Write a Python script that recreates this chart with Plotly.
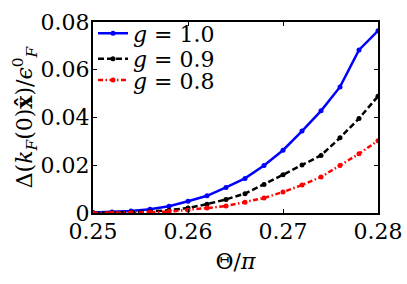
import plotly.graph_objects as go

theta = [0.250, 0.252, 0.254, 0.256, 0.258, 0.260, 0.262, 0.264, 0.266, 0.268,
         0.270, 0.272, 0.274, 0.276, 0.278, 0.280]
g10 = [0.0002, 0.0004, 0.0008, 0.0016, 0.0028, 0.0049, 0.0072, 0.0107, 0.0145, 0.0199,
       0.0263, 0.0343, 0.0428, 0.0528, 0.0683, 0.0763]
g09 = [0.0, 0.0001, 0.0003, 0.0006, 0.0012, 0.0021, 0.0037, 0.0057, 0.0081, 0.0119,
       0.0160, 0.0201, 0.0241, 0.0315, 0.0396, 0.0489]
g08 = [0.0, 0.0, 0.0001, 0.0003, 0.0006, 0.0012, 0.0021, 0.0029, 0.0045, 0.0063,
       0.0088, 0.0117, 0.0151, 0.0199, 0.0248, 0.0303]
names = ["<i>g</i> = 1.0", "<i>g</i> = 0.9", "<i>g</i> = 0.8"]
xticks = [0.25, 0.26, 0.27, 0.28]
yticks = [0, 0.02, 0.04, 0.06, 0.08]
yticklabels = ["0", "0.02", "0.04", "0.06", "0.08"]

FONT = "DejaVu Serif"
fig = go.Figure()
styles = [("blue", "solid"), ("black", "6px,3px"), ("red", "5px,2.5px,1.5px,2.5px")]
legends = ["legend", "legend2", "legend3"]
for ys, nm, (c, d), lg in zip([g10, g09, g08], names, styles, legends):
    fig.add_trace(go.Scatter(x=theta, y=ys, name=nm, mode="lines+markers",
                             line=dict(color=c, width=2.5, dash=d),
                             marker=dict(color=c, size=5), legend=lg))

axis_common = dict(showline=True, linecolor="black", linewidth=2, mirror="ticks",
                   ticks="inside", ticklen=4, tickwidth=1, tickcolor="black",
                   showgrid=False, zeroline=False, automargin=False,
                   ticklabeloverflow="allow",
                   tickfont=dict(family=FONT, size=22, color="black"))
fig.update_xaxes(range=[0.25, 0.28], tickvals=xticks, ticktext=[f"{v:.2f}" for v in xticks],
                 ticklabelstandoff=-2,
                 title=dict(text="Θ/<i>π</i>", font=dict(family=FONT, size=22, color="black"),
                            standoff=10),
                 **axis_common)
fig.update_yaxes(range=[0, 0.08], tickvals=yticks, ticktext=yticklabels,
                 ticklabelstandoff=-3,
                 title=dict(text="Δ(<i>k<sub>F</sub></i>(0)<b>x̂</b>)/<i>ϵ</i><sup>0</sup><sub><i>F</i></sub>",
                            font=dict(family=FONT, size=22, color="black"), standoff=0),
                 **axis_common)
leg_common = dict(x=0.0, xanchor="left", yanchor="top",
                  bgcolor="rgba(0,0,0,0)", borderwidth=0,
                  font=dict(family=FONT, size=22), itemwidth=30)
fig.update_layout(width=407, height=284, margin=dict(l=93, r=29, t=13, b=71),
                  paper_bgcolor="white", plot_bgcolor="white",
                  font=dict(family=FONT, size=22, color="black"),
                  legend=dict(y=1.05, **leg_common),
                  legend2=dict(y=0.9165, **leg_common),
                  legend3=dict(y=0.805, **leg_common),
                  showlegend=True)
fig.write_html("out.html", config={"displayModeBar": False},
               post_script="document.body.style.margin='0';")
